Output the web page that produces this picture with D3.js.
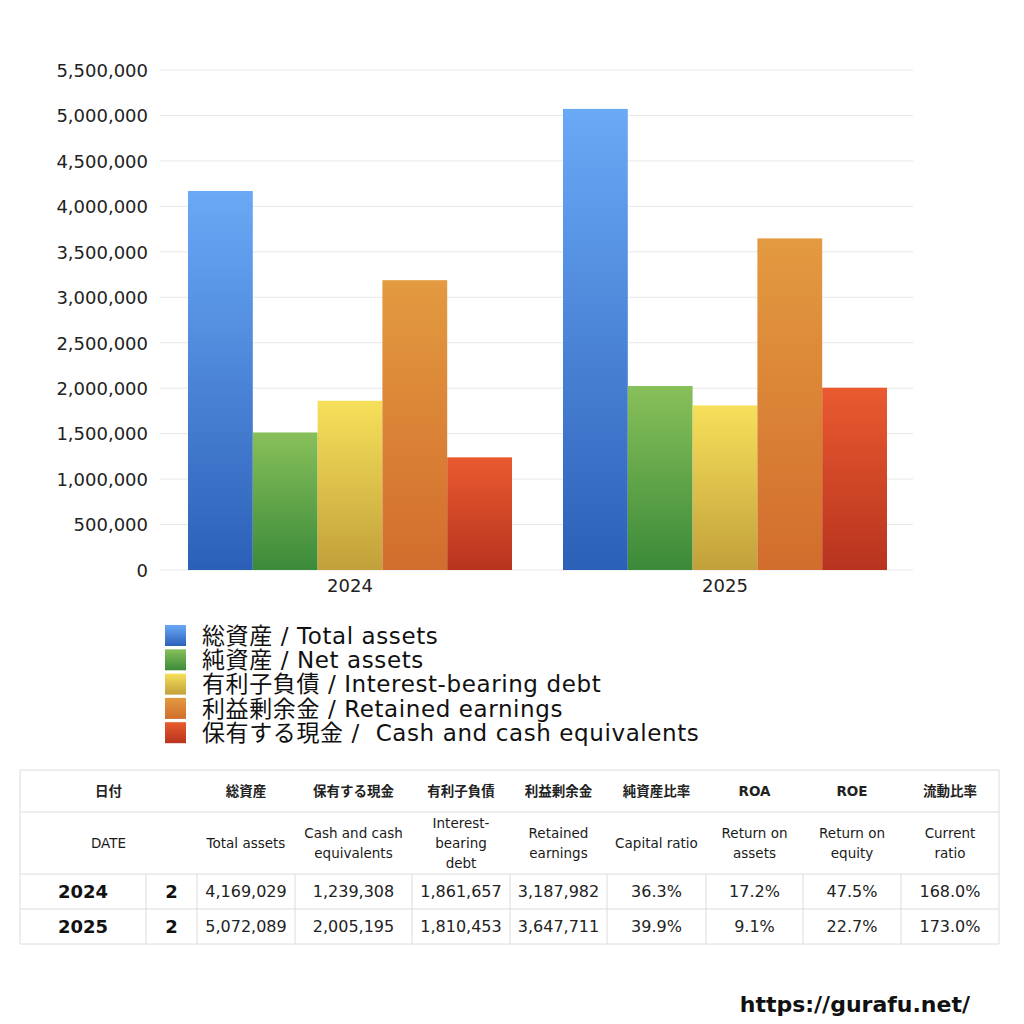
<!DOCTYPE html>
<html><head><meta charset="utf-8">
<script src="https://cdn.jsdelivr.net/npm/d3@7/dist/d3.min.js"></script>
<style>
body{margin:0;background:#fff;}
svg text{font-family:"DejaVu Sans","Noto Sans CJK JP",sans-serif;white-space:pre;}
</style></head>
<body>
<svg id="c" width="1024" height="1024"></svg>
<script>
const years = ["2024","2025"];
const seriesKeys = ["total","net","debt","retained","cash"];
const seriesLabels = ["総資産 / Total assets","純資産 / Net assets","有利子負債 / Interest-bearing debt","利益剰余金 / Retained earnings","保有する現金 /  Cash and cash equivalents"];
const totalAssets = [4169029, 5072089];
const netAssets = [1513000, 2024000];
const interestDebt = [1861657, 1810453];
const retainedEarnings = [3187982, 3647711];
const cashEquiv = [1239308, 2005195];
const yTicks = [0,500000,1000000,1500000,2000000,2500000,3000000,3500000,4000000,4500000,5000000,5500000];
const gradTop = ["#6aa9f6","#88c05a","#f6e05a","#e39a40","#e95a2f"];
const gradBot = ["#2c60b8","#3b8a39","#c2a03b","#d26d2d","#b8341f"];

const headerJa = ["日付","総資産","保有する現金","有利子負債","利益剰余金","純資産比率","ROA","ROE","流動比率"];
const headerEn = ["DATE","Total assets","Cash and cash\nequivalents","Interest-\nbearing\ndebt","Retained\nearnings","Capital ratio","Return on\nassets","Return on\nequity","Current\nratio"];
const rowMonths = ["2","2"];
const capitalRatio = ["36.3%","39.9%"];
const roa = ["17.2%","9.1%"];
const roe = ["47.5%","22.7%"];
const currentRatio = ["168.0%","173.0%"];

const values = [totalAssets, netAssets, interestDebt, retainedEarnings, cashEquiv];
const svg = d3.select("#c");
const defs = svg.append("defs");
seriesKeys.forEach((k,i)=>{
  const g = defs.append("linearGradient").attr("id","g"+i).attr("x1",0).attr("y1",0).attr("x2",0).attr("y2",1);
  g.append("stop").attr("offset","0%").attr("stop-color",gradTop[i]);
  g.append("stop").attr("offset","100%").attr("stop-color",gradBot[i]);
});

const x0 = d3.scaleBand().domain(years).range([162.5,912.5]).paddingInner(0.136).paddingOuter(0.068);
const x1 = d3.scaleBand().domain(seriesKeys).range([0,x0.bandwidth()]);
const y = d3.scaleLinear().domain([0,5500000]).range([570,70]);

// grid
svg.append("g").selectAll("line").data(yTicks).join("line")
  .attr("x1",160).attr("x2",913).attr("y1",d=>y(d)).attr("y2",d=>y(d))
  .attr("stroke","#e8e8e8").attr("stroke-width",1);

// y axis
const yAxis = d3.axisLeft(y).tickValues(yTicks).tickSize(0).tickPadding(0).tickFormat(d3.format(","));
const ya = svg.append("g").attr("transform","translate(148,0)").call(yAxis);
ya.select(".domain").remove();
ya.selectAll("text").attr("font-size",18).attr("fill","#222").attr("dy","0.35em");

// bars
const gs = svg.append("g").selectAll("g").data(years).join("g").attr("transform",d=>`translate(${x0(d)},0)`);
gs.selectAll("rect").data((d,yi)=>seriesKeys.map((k,si)=>({k,si,v:values[si][yi]}))).join("rect")
  .attr("x",d=>x1(d.k)).attr("width",x1.bandwidth())
  .attr("y",d=>y(d.v)).attr("height",d=>y(0)-y(d.v))
  .attr("fill",d=>`url(#g${d.si})`);

// x axis
const xAxis = d3.axisBottom(x0).tickSize(0).tickPadding(0);
const xa = svg.append("g").attr("transform","translate(0,579)").call(xAxis);
xa.select(".domain").remove();
xa.selectAll("text").attr("font-size",18).attr("fill","#222").attr("dy","0.71em");

// legend
const lg = svg.append("g").selectAll("g").data(seriesLabels).join("g")
  .attr("transform",(d,i)=>`translate(165,${625+i*24.3})`);
lg.append("rect").attr("width",21).attr("height",21).attr("fill",(d,i)=>`url(#g${i})`);
lg.append("text").attr("x",37).attr("y",10.5).attr("dy","0.36em").attr("font-size",23)
  .attr("letter-spacing",0.6).attr("fill","#111").text(d=>d);

// table
const colEdges = [20,146,197,295,412,510,607,706,803,901,999];
const rowEdges = [770,812,874,909,944];
const tg = svg.append("g");
const lineColor = "#dcdcdc";
rowEdges.forEach(ry=>tg.append("line").attr("x1",20).attr("x2",999).attr("y1",ry).attr("y2",ry).attr("stroke",lineColor));
tg.append("line").attr("x1",20).attr("x2",20).attr("y1",770).attr("y2",944).attr("stroke",lineColor);
tg.append("line").attr("x1",999).attr("x2",999).attr("y1",770).attr("y2",944).attr("stroke",lineColor);
colEdges.slice(1,-1).forEach(cx=>tg.append("line").attr("x1",cx).attr("x2",cx).attr("y1",874).attr("y2",944).attr("stroke",lineColor));

const hCenters = [ (20+197)/2 ];
for(let c=2;c<10;c++) hCenters.push((colEdges[c]+colEdges[c+1])/2);
headerJa.forEach((t,i)=>{
  tg.append("text").attr("x",hCenters[i]).attr("y",791).attr("dy","0.36em").attr("text-anchor","middle")
    .attr("font-size",13.5).attr("font-weight","bold").attr("fill","#222").text(t);
});
headerEn.forEach((t,i)=>{
  const lines = t.split("\n");
  const lh = 20;
  const startY = 843 - (lines.length-1)*lh/2;
  lines.forEach((l,j)=>{
    tg.append("text").attr("x",hCenters[i]).attr("y",startY+j*lh).attr("dy","0.36em").attr("text-anchor","middle")
      .attr("font-size",13.5).attr("fill","#1a1a1a").text(l);
  });
});
const fmt = d3.format(",");
years.forEach((yr,ri)=>{
  const cy = (rowEdges[2+ri]+rowEdges[3+ri])/2;
  const cells = [yr, rowMonths[ri], fmt(totalAssets[ri]), fmt(cashEquiv[ri]), fmt(interestDebt[ri]), fmt(retainedEarnings[ri]), capitalRatio[ri], roa[ri], roe[ri], currentRatio[ri]];
  cells.forEach((t,ci)=>{
    const cx = (colEdges[ci]+colEdges[ci+1])/2;
    const bold = ci<2;
    tg.append("text").attr("x",cx).attr("y",cy).attr("dy","0.36em").attr("text-anchor","middle")
      .attr("font-size",bold?18:16).attr("font-weight",bold?"bold":"normal").attr("fill",bold?"#111":"#222").text(t);
  });
});

// footer
svg.append("text").attr("x",970).attr("y",1004).attr("dy","0.36em").attr("text-anchor","end")
  .attr("font-size",22).attr("font-weight","bold").attr("fill","#111").text("https://gurafu.net/");
</script>
</body></html>
